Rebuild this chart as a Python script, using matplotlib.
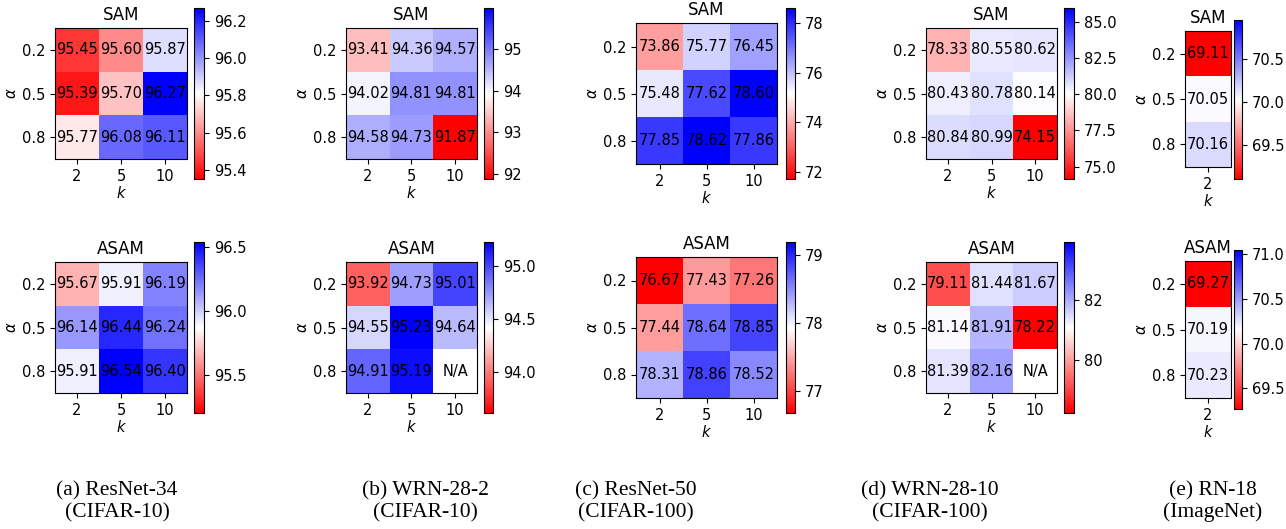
import numpy as np
import matplotlib
matplotlib.use("Agg")
from matplotlib import pyplot as plt
from matplotlib.colors import Normalize

# rows = alpha, cols = k
alphas = ["0.2", "0.5", "0.8"]
ks = ["2", "5", "10"]
ks_in = ["2"]

resnet34_sam = [[95.45, 95.60, 95.87], [95.39, 95.70, 96.27], [95.77, 96.08, 96.11]]
resnet34_asam = [[95.67, 95.91, 96.19], [96.14, 96.44, 96.24], [95.91, 96.54, 96.40]]
wrn282_sam = [[93.41, 94.36, 94.57], [94.02, 94.81, 94.81], [94.58, 94.73, 91.87]]
wrn282_asam = [[93.92, 94.73, 95.01], [94.55, 95.23, 94.64], [94.91, 95.19, np.nan]]
resnet50_sam = [[73.86, 75.77, 76.45], [75.48, 77.62, 78.60], [77.85, 78.62, 77.86]]
resnet50_asam = [[76.67, 77.43, 77.26], [77.44, 78.64, 78.85], [78.31, 78.86, 78.52]]
wrn2810_sam = [[78.33, 80.55, 80.62], [80.43, 80.78, 80.14], [80.84, 80.99, 74.15]]
wrn2810_asam = [[79.11, 81.44, 81.67], [81.14, 81.91, 78.22], [81.39, 82.16, np.nan]]
rn18_sam = [[69.11], [70.05], [70.16]]
rn18_asam = [[69.27], [70.19], [70.23]]

# white point of each colour scale (baseline accuracy)
centers_sam = [95.81, 93.93, 75.17, 80.05, 70.03]
centers_asam = [95.87, 94.42, 77.93, 81.09, 70.16]

# colorbar ticks
ticks_sam = [[95.4, 95.6, 95.8, 96.0, 96.2], [92, 93, 94, 95], [72, 74, 76, 78],
             [75.0, 77.5, 80.0, 82.5, 85.0], [69.5, 70.0, 70.5]]
ticks_asam = [[95.5, 96.0, 96.5], [94.0, 94.5, 95.0], [77, 78, 79],
              [80, 82], [69.5, 70.0, 70.5, 71.0]]
fmt_sam = ["%.1f", "%d", "%d", "%.1f", "%.1f"]
fmt_asam = ["%.1f", "%.1f", "%d", "%d", "%.1f"]

captions = [("(a) ResNet-34", "(CIFAR-10)"), ("(b) WRN-28-2", "(CIFAR-10)"),
            ("(c) ResNet-50", "(CIFAR-100)"), ("(d) WRN-28-10", "(CIFAR-100)"),
            ("(e) RN-18", "(ImageNet)")]

W, H = 1286, 529
fig = plt.figure(figsize=(W / 100, H / 100), dpi=100)


def px(l, t, r, b):
    return [l / W, 1 - b / H, (r - l) / W, (b - t) / H]


def heat(data, center, cols, title, ax_box, cb_box, ticks, fmt):
    data = np.array(data, dtype=float)
    r = np.nanmax(np.abs(data - center))
    ax = fig.add_axes(px(*ax_box))
    cax = fig.add_axes(px(*cb_box))
    im = ax.imshow(data, cmap="bwr_r", norm=Normalize(center - r, center + r), aspect="auto")
    for i in range(data.shape[0]):
        for j in range(data.shape[1]):
            v = data[i, j]
            txt = "N/A" if np.isnan(v) else "%.2f" % v
            ax.text(j, i, txt, ha="center", va="center", color="k", fontsize=10.5)
    ax.set_xticks(range(len(cols)))
    ax.set_xticklabels(cols)
    ax.set_yticks(range(len(alphas)))
    ax.set_yticklabels(alphas)
    ax.tick_params(labelsize=10.5)
    ax.set_xlabel("$k$", labelpad=1, fontsize=10.5)
    ax.set_ylabel(r"$\alpha$", labelpad=2, fontsize=10.5)
    ax.set_title(title, fontsize=12)
    cb = fig.colorbar(im, cax=cax, ticks=ticks, format=fmt)
    cb.ax.tick_params(labelsize=10.5)
    return ax


# pixel boxes (left, top, right, bottom)
ax_top = [(55, 28, 187, 159), (346, 28, 477, 159), (636, 23, 777, 164),
          (926, 28, 1057, 159), (1185, 31, 1231, 167)]
cb_top = [(194, 8, 204, 179), (484, 8, 493, 179), (786, 8, 795, 179),
          (1064, 8, 1074, 179), (1234, 20, 1242, 179)]
ax_bot = [(55, 262, 187, 393), (346, 262, 477, 393), (636, 257, 777, 398),
          (926, 262, 1057, 393), (1185, 261, 1231, 398)]
cb_bot = [(194, 242, 204, 413), (484, 242, 493, 413), (786, 242, 795, 413),
          (1064, 242, 1074, 413), (1234, 250, 1242, 409)]

sam = [resnet34_sam, wrn282_sam, resnet50_sam, wrn2810_sam, rn18_sam]
asam = [resnet34_asam, wrn282_asam, resnet50_asam, wrn2810_asam, rn18_asam]

for n in range(5):
    cols = ks_in if n == 4 else ks
    heat(sam[n], centers_sam[n], cols, "SAM", ax_top[n], cb_top[n], ticks_sam[n], fmt_sam[n])
    heat(asam[n], centers_asam[n], cols, "ASAM", ax_bot[n], cb_bot[n], ticks_asam[n], fmt_asam[n])

# captions under each column
cap_x = [117, 425, 636, 930, 1213]
for x, (l1, l2) in zip(cap_x, captions):
    fig.text(x / W, 1 - 495 / H, l1, ha="center", va="baseline",
             family="Liberation Serif", fontsize=15.5)
    fig.text(x / W, 1 - 517 / H, l2, ha="center", va="baseline",
             family="Liberation Serif", fontsize=15.5)

fig.savefig("out.png", dpi=100)
